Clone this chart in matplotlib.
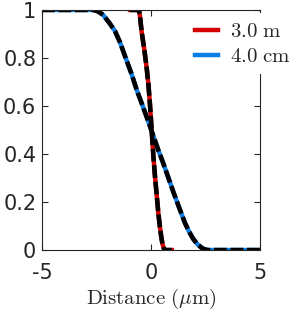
import numpy as np
from matplotlib import pyplot as plt

plt.rcParams['mathtext.fontset'] = 'cm'

# 3.0 m profile (steep)
red_x = [-0.96, -0.55, -0.5, -0.43, -0.3, -0.2, -0.12, -0.05, 0.03, 0.11, 0.18, 0.26, 0.34, 0.41, 0.47, 0.52, 0.58, 0.64, 0.95]
red_y = [1.0, 1.0, 0.97, 0.91, 0.83, 0.76, 0.69, 0.61, 0.50, 0.39, 0.31, 0.23, 0.15, 0.095, 0.055, 0.028, 0.008, 0.0, 0.0]

# 4.0 cm profile (wide)
blue_x = [-5.0, -2.65, -2.45, -2.2, -1.9, -1.65, -1.42, -1.12, -0.89, -0.66, -0.43, -0.12, 0.03, 0.34, 0.56, 0.87, 1.02, 1.33, 1.56, 1.75, 1.93, 2.12, 2.31, 2.45, 2.61, 5.0]
blue_y = [1.0, 1.0, 0.995, 0.98, 0.945, 0.912, 0.865, 0.79, 0.733, 0.668, 0.612, 0.535, 0.495, 0.415, 0.362, 0.282, 0.243, 0.167, 0.112, 0.076, 0.047, 0.025, 0.01, 0.003, 0.0, 0.0]

fig = plt.figure(figsize=(2.89, 3.11), dpi=100)
ax = fig.add_axes([0.145, 0.196, 0.755, 0.772])

l1, = ax.plot(red_x, red_y, color='#d40000', lw=3.2, label=r'$\mathrm{3.0\ m}$')
l2, = ax.plot(blue_x, blue_y, color='#0a7de6', lw=3.2, label=r'$\mathrm{4.0\ cm}$')
ax.plot(red_x, red_y, color='black', lw=3.3, dashes=(2.8, 0.8))
ax.plot(blue_x, blue_y, color='black', lw=3.3, dashes=(2.8, 0.8))

ax.set_xlim(-5, 5)
ax.set_ylim(0, 1)
ax.set_xticks([-5, 0, 5])
ax.set_xticklabels(['-5', '0', '5'])
ax.set_yticks([0, 0.2, 0.4, 0.6, 0.8, 1])
ax.set_yticklabels(['0', '0.2', '0.4', '0.6', '0.8', '1'])
ax.tick_params(direction='in', length=4, width=0.8, colors='#262626',
               labelsize=15, right=True, top=True, pad=4)
ax.tick_params(axis='x', pad=9)
for s in ['left', 'right', 'bottom', 'top']:
    ax.spines[s].set_color('#262626')
    ax.spines[s].set_linewidth(0.8)

ax.set_xlabel(r'$\mathrm{Distance\ (}\mu\mathrm{m)}$', fontsize=15, color='#262626', labelpad=3)

leg = fig.legend(handles=[l1, l2], loc='upper left', bbox_to_anchor=(0.61, 0.993),
                 frameon=True, framealpha=1, facecolor='white', edgecolor='none',
                 fontsize=15, handlelength=1.1, handletextpad=0.6, labelspacing=0.25,
                 borderpad=0.4, fancybox=False)
leg.set_zorder(5)
for t in leg.get_texts():
    t.set_color('#262626')

fig.savefig('out.png', dpi=100)
